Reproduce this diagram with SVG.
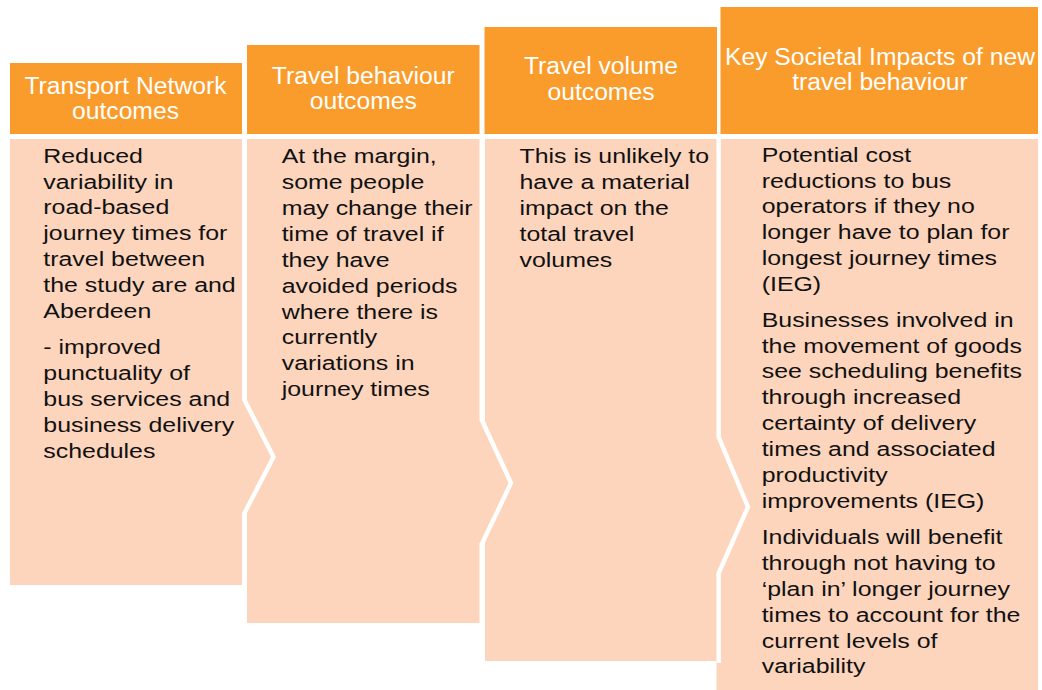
<svg xmlns="http://www.w3.org/2000/svg" width="1042" height="690" viewBox="0 0 1042 690">
<style>
.hd{fill:#F99C2B}
.bd{fill:#FDD5BD}
.ht{font-family:"Liberation Sans",Arial,sans-serif;font-size:24.7px;fill:#FFFFFF;text-anchor:middle}
.bt{font-family:"Liberation Sans",Arial,sans-serif;font-size:20px;fill:#111111}
.gap{fill:none;stroke:#FFFFFF;stroke-width:4.4;stroke-linejoin:miter}
</style>
<rect width="1042" height="690" fill="#FFFFFF"/>
<g id="col1">
<rect class="hd" x="10" y="63" width="232" height="71"/>
<rect class="bd" x="10" y="139" width="232" height="446"/>
</g>
<g id="col2">
<rect class="hd" x="247" y="45" width="232.5" height="89"/>
<rect class="bd" x="247" y="139" width="232.5" height="484"/>
</g>
<g id="col4">
<rect class="hd" x="720.5" y="7" width="317.5" height="127"/>
<rect class="bd" x="716.5" y="139" width="321.5" height="551"/>
</g>
<g id="col3">
<rect class="hd" x="484.5" y="27" width="232.5" height="107"/>
<rect class="bd" x="485" y="139" width="231.7" height="522"/>
</g>
<g id="connectors">
<polygon class="bd" points="240,400 244.5,400 273.5,457 244.5,513 240,513"/>
<polygon class="bd" points="478,421 482.3,421 511,483 482.3,543 478,543"/>
<polygon class="bd" points="714,437 718.7,437 748,507 718.7,573 714,573"/>
<polyline class="gap" points="244.5,139 244.5,400 273.5,457 244.5,513 244.5,585"/>
<polyline class="gap" points="482.3,139 482.3,421 511,483 482.3,543 482.3,623"/>
<polyline class="gap" points="718.7,139 718.7,437 748,507 718.7,573 718.7,663"/>
</g>
<g id="col1-text">
<text class="ht" x="125.5" y="94.3">Transport Network</text>
<text class="ht" x="125.5" y="119.3">outcomes</text>
<g transform="translate(43.3,0) scale(1.245,1)">
<text class="bt" x="0" y="162.7">Reduced</text>
<text class="bt" x="0" y="188.6">variability in</text>
<text class="bt" x="0" y="214.5">road-based</text>
<text class="bt" x="0" y="240.4">journey times for</text>
<text class="bt" x="0" y="266.3">travel between</text>
<text class="bt" x="0" y="292.2">the study are and</text>
<text class="bt" x="0" y="318.1">Aberdeen</text>
<text class="bt" x="0" y="354.3">- improved</text>
<text class="bt" x="0" y="380.2">punctuality of</text>
<text class="bt" x="0" y="406.1">bus services and</text>
<text class="bt" x="0" y="432">business delivery</text>
<text class="bt" x="0" y="457.9">schedules</text>
</g>
</g>
<g id="col2-text">
<text class="ht" x="363.3" y="84.3">Travel behaviour</text>
<text class="ht" x="363.3" y="109.3">outcomes</text>
<g transform="translate(281.7,0) scale(1.245,1)">
<text class="bt" x="0" y="163.2">At the margin,</text>
<text class="bt" x="0" y="189.1">some people</text>
<text class="bt" x="0" y="215">may change their</text>
<text class="bt" x="0" y="240.9">time of travel if</text>
<text class="bt" x="0" y="266.8">they have</text>
<text class="bt" x="0" y="292.7">avoided periods</text>
<text class="bt" x="0" y="318.6">where there is</text>
<text class="bt" x="0" y="344.5">currently</text>
<text class="bt" x="0" y="370.4">variations in</text>
<text class="bt" x="0" y="396.3">journey times</text>
</g>
</g>
<g id="col3-text">
<text class="ht" x="601" y="74">Travel volume</text>
<text class="ht" x="601" y="100">outcomes</text>
<g transform="translate(519.5,0) scale(1.245,1)">
<text class="bt" x="0" y="163.3">This is unlikely to</text>
<text class="bt" x="0" y="189.2">have a material</text>
<text class="bt" x="0" y="215.1">impact on the</text>
<text class="bt" x="0" y="241">total travel</text>
<text class="bt" x="0" y="266.9">volumes</text>
</g>
</g>
<g id="col4-text">
<text class="ht" x="880" y="65">Key Societal Impacts of new</text>
<text class="ht" x="880" y="90">travel behaviour</text>
<g transform="translate(761.7,0) scale(1.245,1)">
<text class="bt" x="0" y="161.7">Potential cost</text>
<text class="bt" x="0" y="187.6">reductions to bus</text>
<text class="bt" x="0" y="213.5">operators if they no</text>
<text class="bt" x="0" y="239.4">longer have to plan for</text>
<text class="bt" x="0" y="265.3">longest journey times</text>
<text class="bt" x="0" y="291.2">(IEG)</text>
<text class="bt" x="0" y="326.7">Businesses involved in</text>
<text class="bt" x="0" y="352.6">the movement of goods</text>
<text class="bt" x="0" y="378.5">see scheduling benefits</text>
<text class="bt" x="0" y="404.4">through increased</text>
<text class="bt" x="0" y="430.3">certainty of delivery</text>
<text class="bt" x="0" y="456.2">times and associated</text>
<text class="bt" x="0" y="482.1">productivity</text>
<text class="bt" x="0" y="508">improvements (IEG)</text>
<text class="bt" x="0" y="544">Individuals will benefit</text>
<text class="bt" x="0" y="569.9">through not having to</text>
<text class="bt" x="0" y="595.8">‘plan in’ longer journey</text>
<text class="bt" x="0" y="621.7">times to account for the</text>
<text class="bt" x="0" y="647.6">current levels of</text>
<text class="bt" x="0" y="673.5">variability</text>
</g>
</g>
</svg>
